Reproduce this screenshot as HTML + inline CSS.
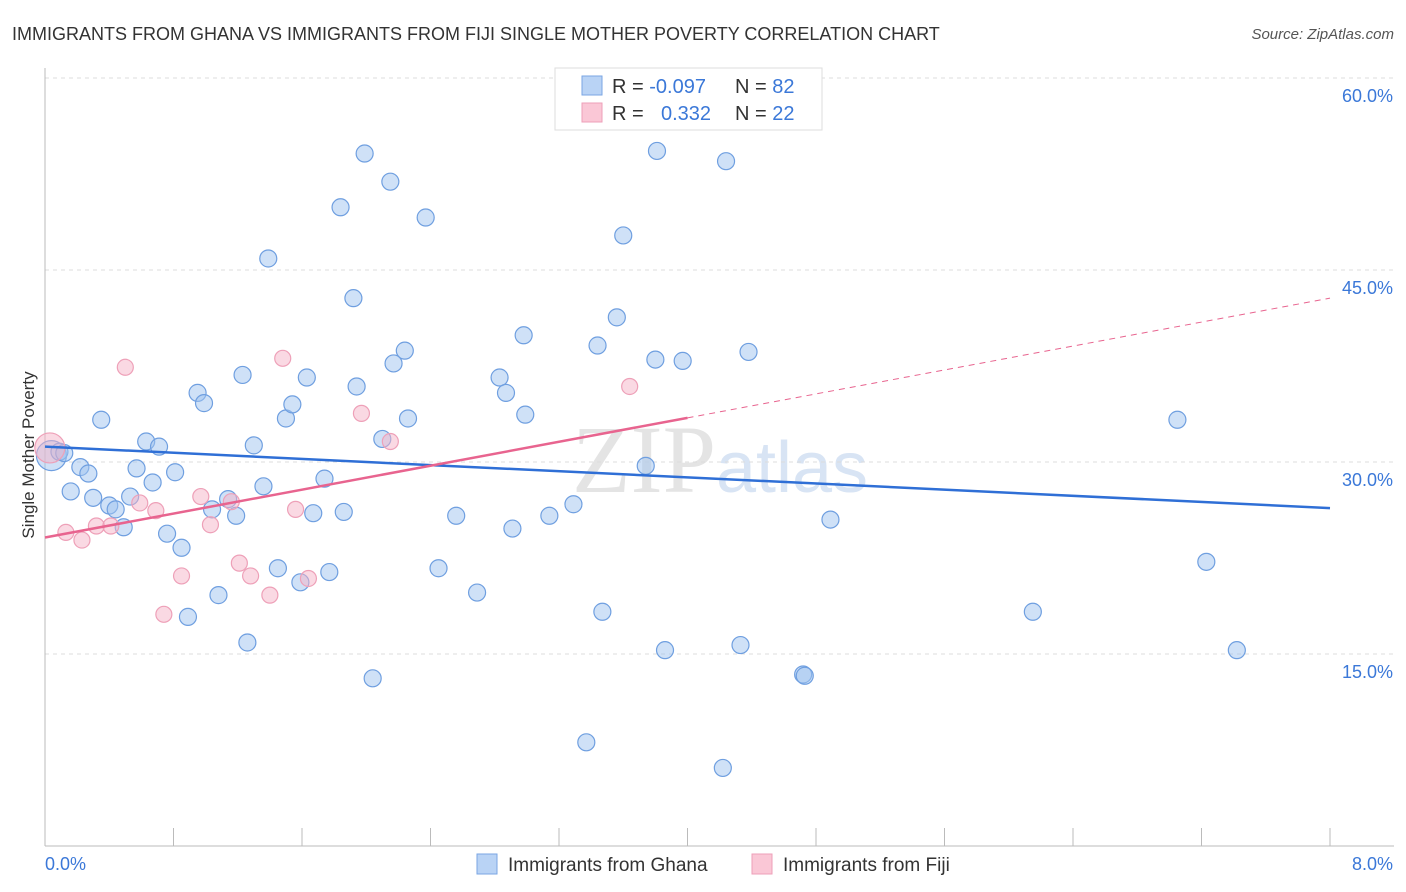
<!DOCTYPE html>
<html><head><meta charset="utf-8">
<style>
body{margin:0;background:#fff;font-family:"Liberation Sans",sans-serif;}
svg{display:block}
</style></head>
<body>
<svg id="chart" width="1406" height="892">
<text x="12" y="40" font-size="18" fill="#333">IMMIGRANTS FROM GHANA VS IMMIGRANTS FROM FIJI SINGLE MOTHER POVERTY CORRELATION CHART</text>
<text x="1394" y="39" font-size="15" fill="#555" font-style="italic" text-anchor="end">Source: ZipAtlas.com</text>
<text x="720" y="492" font-size="96" fill="#e4e4e4" text-anchor="middle" font-family="Liberation Serif,serif">ZIP<tspan font-family="Liberation Sans,sans-serif" font-size="72" fill="#d8e4f4">atlas</tspan></text>
<g id="grid"></g>
<g id="axes"></g>
<g id="pts"></g>
<g id="trends"></g>
<text transform="translate(34,455) rotate(-90)" font-size="17" fill="#333" text-anchor="middle">Single Mother Poverty</text>
<g>
<rect x="555" y="68" width="267" height="62" fill="#fff" stroke="#ddd"/>
<rect x="582" y="76" width="20" height="19" fill="#b9d3f5" stroke="#7aa6e3"/>
<rect x="582" y="103" width="20" height="19" fill="#fac7d6" stroke="#ee9fb8"/>
<text x="612" y="93" font-size="20" fill="#333">R = <tspan fill="#3b78d8">-0.097</tspan></text>
<text x="735" y="93" font-size="20" fill="#333">N = <tspan fill="#3b78d8">82</tspan></text>
<text x="612" y="120" font-size="20" fill="#333">R = <tspan fill="#3b78d8" x="661">0.332</tspan></text>
<text x="735" y="120" font-size="20" fill="#333">N = <tspan fill="#3b78d8">22</tspan></text>
</g>
<g>
<rect x="477" y="854" width="20" height="20" fill="#b9d3f5" stroke="#7aa6e3"/>
<text x="508" y="871" font-size="19" fill="#333">Immigrants from Ghana</text>
<rect x="752" y="854" width="20" height="20" fill="#fac7d6" stroke="#ee9fb8"/>
<text x="783" y="871" font-size="19" fill="#333">Immigrants from Fiji</text>
</g>
</svg>
<script>
const yTicks=[15,30,45,60];
const xTickLabels=["0.0%","8.0%"];
const ghanaX=[0.04,0.09,0.12,0.16,0.22,0.27,0.30,0.35,0.40,0.44,0.49,0.53,0.57,0.63,0.67,0.71,0.76,0.81,0.85,0.89,0.95,0.99,1.04,1.08,1.14,1.19,1.23,1.26,1.30,1.36,1.39,1.45,1.50,1.54,1.59,1.63,1.67,1.74,1.77,1.84,1.86,1.92,1.94,1.99,2.04,2.10,2.15,2.17,2.24,2.26,2.37,2.45,2.56,2.69,2.83,2.87,2.91,2.98,2.99,3.14,3.29,3.37,3.44,3.47,3.56,3.60,3.74,3.81,3.86,3.97,3.80,4.22,4.24,4.33,4.38,4.72,4.73,4.89,6.15,7.05,7.23,7.42];
const ghanaY=[30.5,30.8,30.7,27.7,29.6,29.1,27.2,33.3,26.6,26.3,24.9,27.3,29.5,31.6,28.4,31.2,24.4,29.2,23.3,17.9,35.4,34.6,26.3,19.6,27.1,25.8,36.8,15.9,31.3,28.1,45.9,21.7,33.4,34.5,20.6,36.6,26.0,28.7,21.4,49.9,26.1,42.8,35.9,54.1,13.1,31.8,51.9,37.7,38.7,33.4,49.1,21.7,25.8,19.8,36.6,35.4,24.8,39.9,33.7,25.8,26.7,8.1,39.1,18.3,41.3,47.7,29.7,54.3,15.3,37.9,38.0,6.1,53.5,15.7,38.6,13.4,13.3,25.5,18.3,33.3,22.2,15.3];
const fijiX=[0.03,0.13,0.23,0.32,0.41,0.50,0.59,0.69,0.74,0.85,0.97,1.03,1.16,1.21,1.28,1.40,1.48,1.56,1.64,1.97,2.15,3.64];
const fijiY=[31.1,24.5,23.9,25.0,25.0,37.4,26.8,26.2,18.1,21.1,27.3,25.1,26.9,22.1,21.1,19.6,38.1,26.3,20.9,33.8,31.6,35.9];
const ghanaTrend=[31.2,26.4];
const fijiTrend=[24.1,42.8];
const fijiSolidEnd=4.0;
const NS="http://www.w3.org/2000/svg";
const X0=45,X1=1330,Y0=846,PX_PER=12.8;
const sx=v=>X0+(v/8)*(X1-X0);
const sy=v=>Y0-v*PX_PER;
function mk(tag,attrs,parent){const e=document.createElementNS(NS,tag);for(const k in attrs)e.setAttribute(k,attrs[k]);parent.appendChild(e);return e;}
const grid=document.getElementById('grid'),axes=document.getElementById('axes');
yTicks.forEach(t=>{
 const l=mk('line',{x1:45,x2:1394,y1:sy(t),y2:sy(t),stroke:'#ddd','stroke-dasharray':'4,4'},grid);
 
 
 const tx=mk('text',{x:1393,y:sy(t)+24,'font-size':18,fill:'#3b78d8','text-anchor':'end'},axes);
 tx.textContent=t.toFixed(1)+'%';
 
 
});
const ax=mk('line',{x1:45,x2:1394,y1:Y0,y2:Y0,stroke:'#bbb'},axes);


const ay=mk('line',{x1:45,x2:45,y1:68,y2:Y0,stroke:'#bbb'},axes);


for(let i=0;i<=10;i++){
 const t=mk('line',{x1:sx(i*0.8),x2:sx(i*0.8),y1:828,y2:Y0,stroke:'#bbb'},axes);
 
 
}
const xl0=mk('text',{x:45,y:870,'font-size':18,fill:'#3b78d8'},axes);xl0.textContent=xTickLabels[0];


const xl1=mk('text',{x:1393,y:870,'font-size':18,fill:'#3b78d8','text-anchor':'end'},axes);xl1.textContent=xTickLabels[1];


const pts=document.getElementById('pts');
ghanaX.forEach((x,i)=>{
 const c=mk('circle',{cx:sx(x),cy:sy(ghanaY[i]),r:i==0?15:8.5,fill:'rgba(160,195,240,0.5)',stroke:'#6f9fe0','stroke-width':1.2},pts);
 
 
});
fijiX.forEach((x,i)=>{
 const c=mk('circle',{cx:sx(x),cy:sy(fijiY[i]),r:i==0?15:8,fill:'rgba(246,180,200,0.5)',stroke:'#eea0b8','stroke-width':1.2},pts);
 
 
});
const tr=document.getElementById('trends');
const bl=mk('line',{x1:sx(0),y1:sy(ghanaTrend[0]),x2:sx(8),y2:sy(ghanaTrend[1]),stroke:'#2f6fd6','stroke-width':2.5},tr);


const fAt=x=>fijiTrend[0]+(fijiTrend[1]-fijiTrend[0])*x/8;
const pl=mk('line',{x1:sx(0),y1:sy(fAt(0)),x2:sx(fijiSolidEnd),y2:sy(fAt(fijiSolidEnd)),stroke:'#e8648f','stroke-width':2.5},tr);


const pd=mk('line',{x1:sx(fijiSolidEnd),y1:sy(fAt(fijiSolidEnd)),x2:sx(8),y2:sy(fAt(8)),stroke:'#e8648f','stroke-width':1,'stroke-dasharray':'6,5'},tr);


</script>
</body></html>
